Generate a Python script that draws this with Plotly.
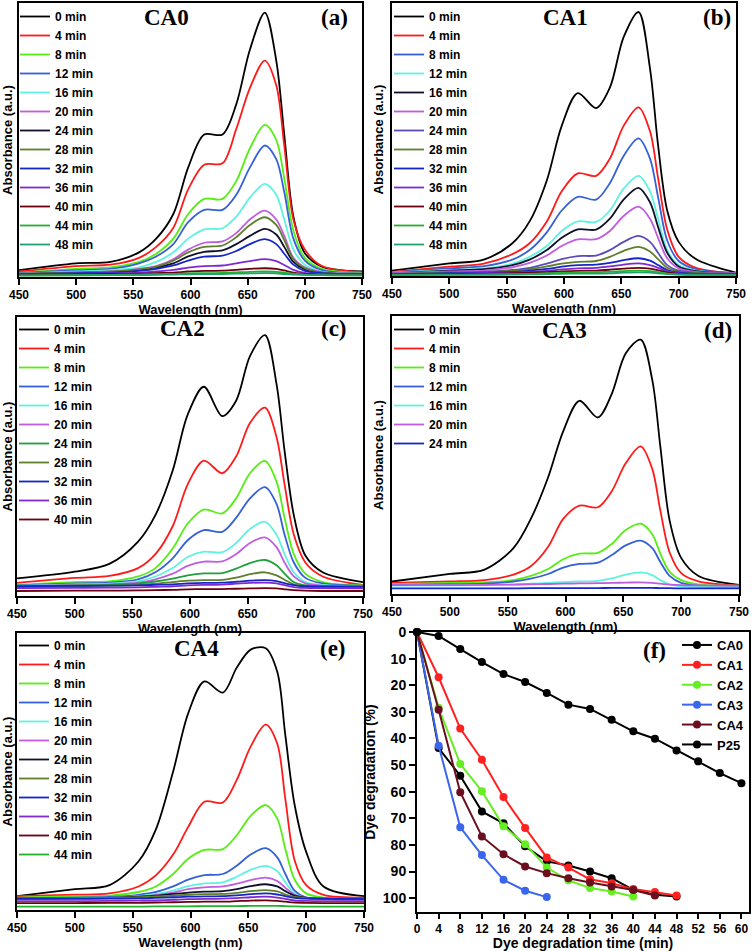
import plotly.graph_objects as go

W, H = 756, 951

""" Data """
WAVELENGTH = [450, 500, 530, 555, 570, 585, 598, 612, 628, 640, 652, 665, 675, 682, 690, 700, 715, 750]

CA0_TIMES = ['0 min', '4 min', '8 min', '12 min', '16 min', '20 min', '24 min',
             '28 min', '32 min', '36 min', '40 min', '44 min', '48 min']
CA0_ABS = [
    [0.025, 0.05, 0.055, 0.09, 0.14, 0.23, 0.40, 0.52, 0.52, 0.63, 0.83, 0.965, 0.79, 0.52, 0.22, 0.087, 0.038, 0.02],
    [0.02, 0.04, 0.045, 0.07, 0.11, 0.18, 0.32, 0.41, 0.415, 0.54, 0.69, 0.79, 0.70, 0.48, 0.21, 0.10, 0.04, 0.018],
    [0.015, 0.03, 0.035, 0.055, 0.085, 0.14, 0.23, 0.285, 0.285, 0.35, 0.47, 0.555, 0.50, 0.36, 0.17, 0.07, 0.03, 0.015],
    [0.015, 0.025, 0.03, 0.05, 0.075, 0.12, 0.20, 0.245, 0.245, 0.30, 0.40, 0.48, 0.43, 0.31, 0.14, 0.06, 0.025, 0.012],
    [0.012, 0.02, 0.025, 0.035, 0.055, 0.09, 0.14, 0.174, 0.178, 0.22, 0.29, 0.34, 0.30, 0.21, 0.10, 0.045, 0.02, 0.012],
    [0.012, 0.018, 0.02, 0.03, 0.04, 0.065, 0.10, 0.125, 0.13, 0.16, 0.21, 0.242, 0.21, 0.15, 0.07, 0.035, 0.018, 0.012],
    [0.01, 0.015, 0.018, 0.025, 0.035, 0.05, 0.075, 0.092, 0.097, 0.12, 0.15, 0.176, 0.155, 0.11, 0.055, 0.028, 0.015, 0.01],
    [0.012, 0.016, 0.02, 0.028, 0.038, 0.06, 0.09, 0.11, 0.115, 0.145, 0.19, 0.218, 0.19, 0.135, 0.065, 0.032, 0.016, 0.012],
    [0.01, 0.014, 0.016, 0.022, 0.03, 0.042, 0.06, 0.074, 0.078, 0.095, 0.12, 0.138, 0.12, 0.085, 0.045, 0.022, 0.014, 0.01],
    [0.008, 0.012, 0.013, 0.016, 0.02, 0.026, 0.034, 0.04, 0.042, 0.05, 0.058, 0.065, 0.058, 0.044, 0.026, 0.015, 0.01, 0.008],
    [0.007, 0.01, 0.011, 0.012, 0.014, 0.016, 0.02, 0.022, 0.023, 0.026, 0.03, 0.032, 0.03, 0.024, 0.016, 0.011, 0.008, 0.007],
    [0.005, 0.007, 0.008, 0.009, 0.01, 0.011, 0.013, 0.014, 0.015, 0.017, 0.019, 0.02, 0.019, 0.016, 0.012, 0.009, 0.007, 0.006],
    [0.006, 0.006, 0.007, 0.007, 0.008, 0.009, 0.01, 0.011, 0.011, 0.012, 0.013, 0.014, 0.013, 0.011, 0.009, 0.008, 0.007, 0.006],
]

CA1_TIMES = CA0_TIMES
CA1_ABS = [
    [0.02, 0.046, 0.06, 0.12, 0.2, 0.35, 0.55, 0.67, 0.615, 0.69, 0.875, 0.967, 0.76, 0.48, 0.24, 0.125, 0.062, 0.012],
    [0.015, 0.034, 0.045, 0.08, 0.12, 0.2, 0.31, 0.376, 0.367, 0.43, 0.55, 0.618, 0.53, 0.36, 0.17, 0.07, 0.03, 0.01],
    [0.013, 0.028, 0.036, 0.06, 0.095, 0.16, 0.24, 0.29, 0.28, 0.34, 0.44, 0.504, 0.43, 0.29, 0.13, 0.055, 0.025, 0.01],
    [0.012, 0.022, 0.028, 0.045, 0.07, 0.11, 0.165, 0.20, 0.198, 0.24, 0.32, 0.367, 0.31, 0.21, 0.095, 0.04, 0.02, 0.01],
    [0.01, 0.02, 0.025, 0.04, 0.06, 0.095, 0.14, 0.171, 0.17, 0.21, 0.28, 0.323, 0.27, 0.18, 0.085, 0.035, 0.018, 0.01],
    [0.01, 0.017, 0.02, 0.032, 0.048, 0.075, 0.11, 0.134, 0.135, 0.165, 0.22, 0.254, 0.21, 0.14, 0.065, 0.028, 0.015, 0.01],
    [0.008, 0.013, 0.015, 0.022, 0.03, 0.045, 0.062, 0.073, 0.075, 0.095, 0.125, 0.147, 0.125, 0.085, 0.04, 0.02, 0.012, 0.008],
    [0.008, 0.012, 0.014, 0.019, 0.025, 0.035, 0.045, 0.052, 0.055, 0.07, 0.092, 0.107, 0.09, 0.062, 0.03, 0.016, 0.01, 0.008],
    [0.006, 0.01, 0.012, 0.015, 0.02, 0.026, 0.034, 0.04, 0.042, 0.048, 0.058, 0.065, 0.056, 0.04, 0.022, 0.012, 0.008, 0.006],
    [0.005, 0.008, 0.01, 0.012, 0.015, 0.019, 0.024, 0.028, 0.03, 0.035, 0.042, 0.046, 0.04, 0.03, 0.017, 0.01, 0.007, 0.005],
    [0.005, 0.007, 0.008, 0.01, 0.012, 0.014, 0.017, 0.019, 0.02, 0.023, 0.027, 0.03, 0.027, 0.021, 0.013, 0.008, 0.006, 0.005],
    [0.004, 0.005, 0.006, 0.007, 0.008, 0.01, 0.012, 0.013, 0.014, 0.016, 0.018, 0.02, 0.018, 0.014, 0.009, 0.006, 0.005, 0.004],
    [0.003, 0.004, 0.004, 0.005, 0.006, 0.007, 0.008, 0.009, 0.009, 0.01, 0.012, 0.013, 0.012, 0.01, 0.007, 0.005, 0.004, 0.003],
]

CA2_TIMES = CA0_TIMES[:11]
CA2_ABS = [
    [0.063, 0.087, 0.115, 0.195, 0.29, 0.45, 0.65, 0.75, 0.645, 0.70, 0.86, 0.935, 0.76, 0.52, 0.29, 0.145, 0.085, 0.05],
    [0.047, 0.065, 0.072, 0.10, 0.15, 0.25, 0.40, 0.485, 0.44, 0.50, 0.62, 0.675, 0.57, 0.40, 0.22, 0.12, 0.07, 0.04],
    [0.04, 0.05, 0.052, 0.07, 0.10, 0.17, 0.26, 0.31, 0.296, 0.35, 0.44, 0.484, 0.41, 0.28, 0.15, 0.08, 0.05, 0.038],
    [0.038, 0.045, 0.048, 0.06, 0.085, 0.135, 0.20, 0.236, 0.23, 0.28, 0.35, 0.39, 0.33, 0.22, 0.12, 0.065, 0.045, 0.036],
    [0.036, 0.042, 0.044, 0.053, 0.07, 0.1, 0.14, 0.159, 0.157, 0.19, 0.24, 0.266, 0.22, 0.15, 0.085, 0.05, 0.04, 0.035],
    [0.035, 0.04, 0.042, 0.048, 0.06, 0.08, 0.108, 0.123, 0.124, 0.15, 0.19, 0.21, 0.175, 0.12, 0.07, 0.045, 0.037, 0.033],
    [0.034, 0.038, 0.04, 0.045, 0.052, 0.062, 0.074, 0.081, 0.082, 0.098, 0.118, 0.129, 0.11, 0.08, 0.05, 0.038, 0.034, 0.032],
    [0.032, 0.035, 0.037, 0.04, 0.044, 0.05, 0.055, 0.057, 0.058, 0.066, 0.078, 0.085, 0.074, 0.058, 0.042, 0.034, 0.031, 0.03],
    [0.035, 0.036, 0.037, 0.038, 0.04, 0.042, 0.045, 0.047, 0.048, 0.051, 0.055, 0.057, 0.053, 0.046, 0.039, 0.035, 0.034, 0.034],
    [0.028, 0.029, 0.03, 0.031, 0.033, 0.035, 0.038, 0.04, 0.041, 0.044, 0.047, 0.048, 0.045, 0.039, 0.032, 0.029, 0.028, 0.027],
    [0.018, 0.019, 0.019, 0.02, 0.021, 0.022, 0.024, 0.025, 0.025, 0.026, 0.027, 0.028, 0.027, 0.024, 0.021, 0.019, 0.018, 0.018],
]

CA3_TIMES = CA0_TIMES[:7]
CA3_ABS = [
    [0.045, 0.072, 0.088, 0.165, 0.27, 0.42, 0.585, 0.695, 0.635, 0.72, 0.865, 0.915, 0.77, 0.53, 0.265, 0.13, 0.065, 0.033],
    [0.04, 0.045, 0.05, 0.07, 0.10, 0.17, 0.27, 0.318, 0.312, 0.37, 0.47, 0.531, 0.45, 0.30, 0.15, 0.075, 0.045, 0.03],
    [0.035, 0.04, 0.042, 0.05, 0.065, 0.09, 0.125, 0.145, 0.148, 0.18, 0.23, 0.253, 0.215, 0.145, 0.08, 0.05, 0.035, 0.03],
    [0.032, 0.035, 0.037, 0.045, 0.055, 0.072, 0.095, 0.108, 0.113, 0.14, 0.175, 0.192, 0.165, 0.115, 0.065, 0.04, 0.03, 0.028],
    [0.03, 0.031, 0.032, 0.034, 0.037, 0.04, 0.043, 0.045, 0.047, 0.056, 0.07, 0.078, 0.068, 0.05, 0.035, 0.028, 0.026, 0.025],
    [0.032, 0.032, 0.033, 0.034, 0.035, 0.036, 0.037, 0.038, 0.039, 0.04, 0.041, 0.042, 0.04, 0.037, 0.034, 0.032, 0.031, 0.03],
    [0.02, 0.02, 0.02, 0.02, 0.021, 0.021, 0.021, 0.021, 0.021, 0.022, 0.022, 0.022, 0.022, 0.021, 0.021, 0.02, 0.02, 0.02],
]

CA4_TIMES = CA0_TIMES[:12]
CA4_ABS = [
    [0.05, 0.075, 0.09, 0.175, 0.29, 0.50, 0.71, 0.825, 0.785, 0.875, 0.94, 0.945, 0.86, 0.63, 0.38, 0.21, 0.085, 0.05],
    [0.05, 0.055, 0.06, 0.085, 0.125, 0.2, 0.30, 0.391, 0.388, 0.47, 0.59, 0.669, 0.60, 0.40, 0.18, 0.09, 0.055, 0.045],
    [0.045, 0.05, 0.052, 0.065, 0.085, 0.13, 0.185, 0.217, 0.22, 0.27, 0.34, 0.379, 0.33, 0.22, 0.11, 0.06, 0.045, 0.04],
    [0.042, 0.045, 0.047, 0.055, 0.065, 0.085, 0.11, 0.126, 0.13, 0.16, 0.2, 0.223, 0.19, 0.13, 0.07, 0.045, 0.04, 0.038],
    [0.04, 0.042, 0.044, 0.05, 0.058, 0.07, 0.086, 0.096, 0.1, 0.12, 0.145, 0.159, 0.14, 0.1, 0.06, 0.044, 0.04, 0.038],
    [0.04, 0.042, 0.043, 0.048, 0.054, 0.063, 0.075, 0.082, 0.085, 0.095, 0.108, 0.117, 0.105, 0.08, 0.055, 0.044, 0.04, 0.038],
    [0.042, 0.043, 0.044, 0.048, 0.052, 0.058, 0.063, 0.066, 0.068, 0.075, 0.086, 0.093, 0.085, 0.068, 0.052, 0.045, 0.042, 0.04],
    [0.042, 0.043, 0.044, 0.046, 0.049, 0.052, 0.055, 0.057, 0.058, 0.062, 0.068, 0.072, 0.067, 0.056, 0.047, 0.043, 0.042, 0.041],
    [0.04, 0.04, 0.041, 0.042, 0.044, 0.046, 0.048, 0.049, 0.05, 0.053, 0.057, 0.06, 0.056, 0.05, 0.044, 0.041, 0.04, 0.04],
    [0.032, 0.032, 0.033, 0.034, 0.035, 0.037, 0.039, 0.04, 0.041, 0.043, 0.046, 0.048, 0.045, 0.04, 0.035, 0.033, 0.032, 0.032],
    [0.025, 0.025, 0.026, 0.026, 0.027, 0.028, 0.029, 0.03, 0.03, 0.032, 0.034, 0.035, 0.033, 0.03, 0.027, 0.026, 0.025, 0.025],
    [0.012, 0.012, 0.012, 0.012, 0.013, 0.013, 0.013, 0.014, 0.014, 0.014, 0.015, 0.015, 0.015, 0.014, 0.013, 0.012, 0.012, 0.012],
]

# panel (f): dye degradation (%) vs time (min)
DEG_NAMES = ['CA0', 'CA1', 'CA2', 'CA3', 'CA4', 'P25']
DEG_TIME = [0, 4, 8, 12, 16, 20, 24, 28, 32, 36, 40, 44, 48, 52, 56, 60]
DEG_CA0 = [0, 43.6, 54, 67.4, 71.9, 80.5, 86.2, 87.7, 90, 92.5, 96.9, 98.7, 99.4]
DEG_CA1 = [0, 17, 36.3, 48, 62, 73.6, 84.7, 88.5, 92.9, 94.4, 96.6, 97.7, 99]
DEG_CA2 = [0, 28.5, 49.6, 59.8, 73, 79.7, 88.5, 93.3, 96.2, 97.5, 99.4]
DEG_CA3 = [0, 42.7, 73.4, 83.8, 93.1, 97.2, 99.6]
DEG_CA4 = [0, 29.2, 60.2, 76.8, 83.5, 88.1, 90.6, 92.5, 94.1, 95.6, 96.9, 99]
DEG_P25 = [0, 1.5, 6.4, 11.3, 15.8, 18.8, 22.9, 27.3, 28.9, 33, 37.3, 40.1, 44.5, 48.6, 53, 56.8]

""" Styles """
BLACK, RED, LIME, BLUE, CYAN, VIOLET = '#000000', '#ff1a1a', '#55ee11', '#3560d8', '#5ef2e0', '#c05ce0'
NAVY, OLIVE, DBLUE, PURPLE, DRED, GREEN = '#10102a', '#5f7f2a', '#1426c8', '#7f2ad0', '#6a0010', '#22b22a'
TEAL, SLATE, GREEN2 = '#22a070', '#5a4cb8', '#1fa03a'
CA0_COLORS = [BLACK, RED, LIME, BLUE, CYAN, VIOLET, NAVY, OLIVE, DBLUE, PURPLE, DRED, GREEN, TEAL]
CA1_COLORS = [BLACK, RED, BLUE, CYAN, NAVY, VIOLET, SLATE, OLIVE, DBLUE, PURPLE, DRED, GREEN, TEAL]
CA2_COLORS = [BLACK, RED, LIME, BLUE, CYAN, VIOLET, GREEN2, OLIVE, DBLUE, PURPLE, DRED]
CA3_COLORS = [BLACK, RED, LIME, BLUE, CYAN, VIOLET, DBLUE]
CA4_COLORS = [BLACK, RED, LIME, BLUE, CYAN, VIOLET, NAVY, OLIVE, DBLUE, PURPLE, DRED, GREEN]
DEG_COLORS = ['#000000', '#ff2020', '#66ee22', '#3a66ee', '#6b0f1f', '#000000']

SANS = 'Liberation Sans, Arial, sans-serif'
SERIF = 'Liberation Serif, Times New Roman, serif'


def px_x(p):
    return p / W


def px_y(p):
    return 1 - p / H


# plot frames in pixels: (left, right, top, bottom)
FRAMES = [(19, 362, 3, 277), (392, 736, 3, 276), (17, 363, 317, 596),
          (392, 739, 316, 594), (17, 364, 633, 910), (417, 749, 632, 912)]

fig = go.Figure()

panels = [(CA0_TIMES, CA0_ABS, CA0_COLORS), (CA1_TIMES, CA1_ABS, CA1_COLORS),
          (CA2_TIMES, CA2_ABS, CA2_COLORS), (CA3_TIMES, CA3_ABS, CA3_COLORS),
          (CA4_TIMES, CA4_ABS, CA4_COLORS)]

for i, (times, spectra, colors) in enumerate(panels):
    n = i + 1
    for name, vals, col in zip(times, spectra, colors):
        fig.add_trace(go.Scatter(x=WAVELENGTH, y=vals, mode='lines', name=name,
                                 line=dict(color=col, width=1.8, shape='spline', smoothing=0.9),
                                 xaxis='x' if n == 1 else f'x{n}', yaxis='y' if n == 1 else f'y{n}',
                                 legend='legend' if n == 1 else f'legend{n}'))

deg_series = [DEG_CA0, DEG_CA1, DEG_CA2, DEG_CA3, DEG_CA4, DEG_P25]
for name, vals, col in zip(DEG_NAMES, deg_series, DEG_COLORS):
    fig.add_trace(go.Scatter(x=DEG_TIME[:len(vals)], y=vals, mode='lines+markers', name=name,
                             line=dict(color=col, width=2), marker=dict(color=col, size=8),
                             cliponaxis=False, xaxis='x6', yaxis='y6', legend='legend6'))

axis_common = dict(showline=True, linecolor='black', linewidth=2, mirror=True, showgrid=False,
                   zeroline=False, ticks='outside', ticklen=6, tickwidth=1.5, tickcolor='black',
                   automargin=False)
tickfont = dict(family=SANS, size=12, color='black', weight='bold')
titlefont = dict(family=SANS, size=13, color='black', weight='bold')

layout = dict(width=W, height=H, margin=dict(l=0, r=0, t=0, b=0, autoexpand=False),
              paper_bgcolor='white', plot_bgcolor='white', showlegend=True)

for i, (l, r, t, b) in enumerate(FRAMES):
    n = i + 1
    xk = 'xaxis' if n == 1 else f'xaxis{n}'
    yk = 'yaxis' if n == 1 else f'yaxis{n}'
    ax_y = 'y' if n == 1 else f'y{n}'
    ax_x = 'x' if n == 1 else f'x{n}'
    if n < 6:
        layout[xk] = dict(axis_common, domain=[px_x(l), px_x(r)], anchor=ax_y, range=[450, 750],
                          tickvals=[450, 500, 550, 600, 650, 700, 750], tickfont=tickfont,
                          title=dict(text='Wavelength (nm)', font=titlefont, standoff=0))
        layout[yk] = dict(axis_common, domain=[px_y(b), px_y(t)], anchor=ax_x, range=[0, 1],
                          ticks='', showticklabels=False,
                          title=dict(text='Absorbance (a.u.)', font=titlefont, standoff=3))
    else:
        layout[xk] = dict(axis_common, domain=[px_x(l), px_x(r)], anchor=ax_y, range=[0, 61.4],
                          tickvals=DEG_TIME, tickfont=dict(tickfont, size=12), ticklen=5,
                          title=dict(text='Dye degradation time (min)', font=dict(titlefont, size=14), standoff=4))
        layout[yk] = dict(axis_common, domain=[px_y(b), px_y(t)], anchor=ax_x, range=[105.2, 0],
                          tickvals=[0, 10, 20, 30, 40, 50, 60, 70, 80, 90, 100], tickfont=dict(tickfont, size=14),
                          title=dict(text='Dye degradation (%)', font=dict(titlefont, size=14), standoff=4))

# legends (top-left inside each spectra panel, top-right in panel f)
legend_pos = [(15, 2), (389, 2), (14, 315), (389, 315), (14, 631), (677, 630)]
for i, (lx, ly) in enumerate(legend_pos):
    key = 'legend' if i == 0 else f'legend{i + 1}'
    layout[key] = dict(x=px_x(lx), y=px_y(ly), xanchor='left', yanchor='top', bgcolor='rgba(0,0,0,0)',
                       font=dict(family=SANS, size=12 if i < 5 else 13, color='black', weight='bold'),
                       tracegroupgap=0, itemwidth=30)

labels = [('CA0', 166, 18), ('(a)', 334, 18), ('CA1', 565, 18), ('(b)', 717, 18),
          ('CA2', 182, 328), ('(c)', 334, 328), ('CA3', 564, 330), ('(d)', 718, 330),
          ('CA4', 196, 648), ('(e)', 333, 648), ('(f)', 654, 650)]
layout['annotations'] = [dict(text=t, x=px_x(x), y=px_y(y), xref='paper', yref='paper',
                              showarrow=False, xanchor='center', yanchor='middle',
                              font=dict(family=SERIF, size=23, color='black', weight='bold'))
                         for t, x, y in labels]

fig.update_layout(layout)
# page body margin would offset the figure inside the window
fig.write_html('out.html', config={'displayModeBar': False},
               post_script="document.body.style.margin='0px';")
